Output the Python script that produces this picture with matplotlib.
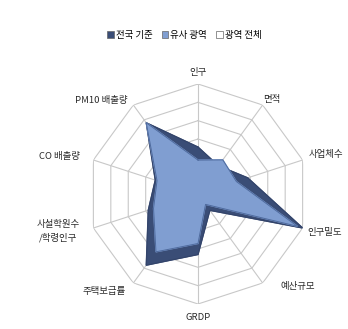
import numpy as np
import matplotlib.pyplot as plt
from matplotlib.patches import Patch

plt.rcParams['font.family'] = ['Noto Sans CJK KR', 'DejaVu Sans']

# Axis labels (clockwise from top)
labels = ["인구", "면적", "사업체수", "인구밀도", "예산규모", "GRDP",
          "주택보급률", "사설학원수\n/학령인구", "CO 배출량", "PM10 배출량"]

# Series values (scale 0-6)
national = [2.56, 1.9, 2.85, 6.0, 1.1, 3.3, 4.8, 2.85, 2.45, 4.8]   # 전국 기준
similar = [1.85, 2.3, 2.2, 5.7, 0.7, 2.7, 3.9, 2.55, 2.35, 4.8]     # 유사 광역
series_names = ["전국 기준", "유사 광역", "광역 전체"]

# Label placement (angle in degrees from top, radius)
label_angle = [0, 38, 73, 107, 133, 180, 224, 255, 285, 314]
label_rad = [6.6, 6.55, 7.3, 7.25, 7.4, 6.75, 7.4, 7.9, 7.8, 7.35]

n = len(labels)
rmax = 6
angles = np.linspace(0, 2 * np.pi, n, endpoint=False)
ang_closed = np.append(angles, angles[0])

fig = plt.figure(figsize=(3.48, 3.29), dpi=100)
ax = fig.add_axes([88 / 348, 25 / 329, 220 / 348, 220 / 329], projection='polar')
ax.set_theta_zero_location('N')
ax.set_theta_direction(-1)
ax.set_ylim(0, rmax)
ax.grid(False)
ax.spines['polar'].set_visible(False)
ax.set_xticks([])
ax.set_yticks([])
ax.patch.set_alpha(0)

grid_col = '#c8c8c8'
for k in range(1, rmax + 1):
    ax.plot(ang_closed, [k] * (n + 1), color=grid_col, lw=0.8, zorder=1)
for a in angles:
    ax.plot([a, a], [0, rmax], color=grid_col, lw=0.8, zorder=1)

nat = np.append(national, national[0])
sim = np.append(similar, similar[0])
ax.fill(ang_closed, nat, color='#3a4d76', zorder=2)
ax.plot(ang_closed, nat, color='#33446a', lw=0.8, zorder=2)
ax.fill(ang_closed, sim, color='#809ed1', zorder=3)
ax.plot(ang_closed, sim, color='#4f6b9e', lw=0.7, zorder=3)

for lab, la, lr in zip(labels, label_angle, label_rad):
    ax.text(np.deg2rad(la), lr, lab, ha='center', va='center', fontsize=6.8,
            color='#2a2a2a', linespacing=1.5)

handles = [Patch(facecolor='#3a4d76', edgecolor='#666666', lw=0.5),
           Patch(facecolor='#809ed1', edgecolor='#666666', lw=0.5),
           Patch(facecolor='white', edgecolor='#666666', lw=0.5)]
fig.legend(handles, series_names, loc='center', bbox_to_anchor=(0.53, 0.893),
           ncol=3, frameon=False, fontsize=6.8, handlelength=0.7, handleheight=0.7,
           handletextpad=0.2, columnspacing=1.0)

fig.savefig('out.png', dpi=100)
